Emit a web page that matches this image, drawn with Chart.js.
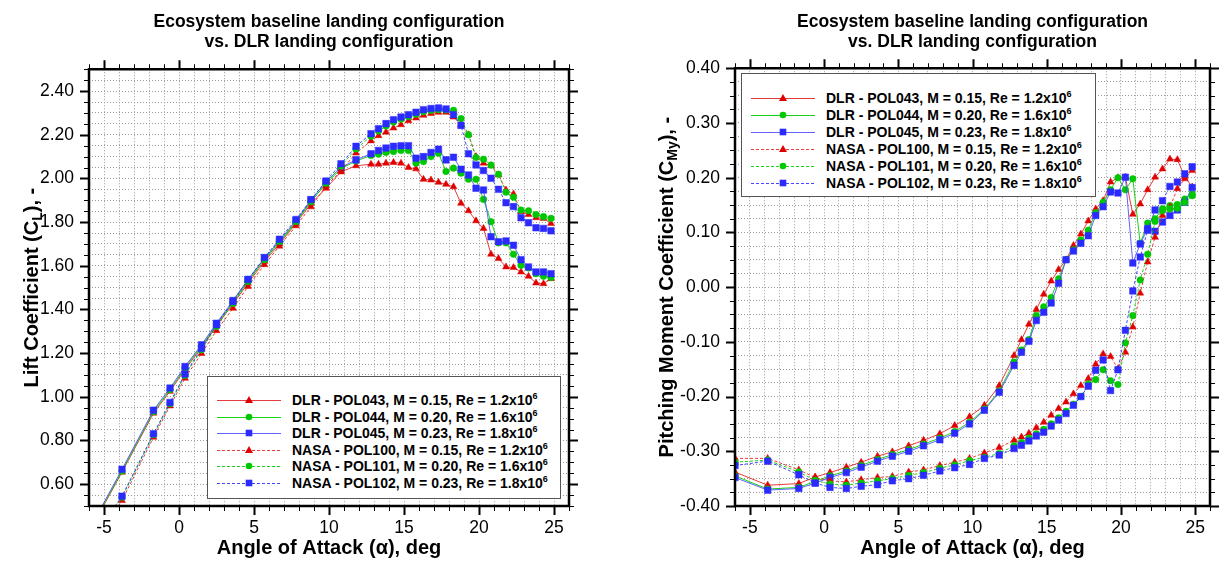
<!DOCTYPE html>
<html>
<head>
<meta charset="utf-8">
<script src="https://cdn.jsdelivr.net/npm/chart.js@4.4.1/dist/chart.umd.min.js"></script>
<style>
body { margin: 0; background: #fff; width: 1222px; height: 565px; position: relative; overflow: hidden; font-family: 'Liberation Sans', Arial, sans-serif; }
.pane { position: absolute; top: 0; width: 611px; height: 565px; }
.legend { position: absolute; border: 1px solid #555; background: #fff; box-sizing: border-box; }
.row { position: absolute; left: 0; right: 0; height: 18px; line-height: 18px; white-space: nowrap; font-weight: bold; font-size: 14px; color: #000; }
.row svg { position: absolute; left: 9px; top: 3px; }
.row span.t { position: absolute; left: 84px; }
.row sup { font-size: 9px; vertical-align: 6px; line-height: 0; }
</style>
</head>
<body>
<div class="pane" style="left:0"><canvas id="clChart" width="611" height="565"></canvas></div>
<div class="pane" style="left:611px"><canvas id="cmChart" width="611" height="565"></canvas></div>

<script>
// angle of attack, deg (same sweep for every run)
var ALPHA = [-6.0, -3.8, -1.7, -0.6, 0.4, 1.5, 2.5, 3.6, 4.6, 5.7, 6.7, 7.8, 8.8, 9.8, 10.8, 11.8,
  12.8, 13.3, 13.8, 14.3, 14.8, 15.3, 15.8, 16.3, 16.8, 17.3, 17.8, 18.3, 18.8, 19.3, 19.8,
  20.3, 20.8, 21.3, 21.8, 22.3, 22.8, 23.3, 23.8, 24.3, 24.8];

// lift coefficient
var CL_POL043 = [0.38, 0.655, 0.925, 1.025, 1.125, 1.225, 1.325, 1.425, 1.52, 1.62, 1.70, 1.795, 1.885, 1.955, 2.03, 2.058,
  2.065, 2.065, 2.07, 2.073, 2.07, 2.05, 2.044, 1.996, 1.993, 1.982, 1.973, 1.962, 1.886, 1.852, 1.806,
  1.771, 1.653, 1.633, 1.595, 1.592, 1.572, 1.552, 1.521, 1.518, 1.541];
var CL_POL044 = [0.385, 0.66, 0.932, 1.032, 1.132, 1.232, 1.332, 1.432, 1.53, 1.628, 1.708, 1.80, 1.895, 1.975, 2.045, 2.08,
  2.105, 2.111, 2.119, 2.123, 2.128, 2.128, 2.07, 2.077, 2.10, 2.115, 2.032, 2.047, 2.024, 1.996, 1.996,
  1.904, 1.802, 1.705, 1.705, 1.653, 1.602, 1.590, 1.564, 1.552, 1.546];
var CL_POL045 = [0.39, 0.668, 0.939, 1.04, 1.139, 1.238, 1.337, 1.441, 1.537, 1.635, 1.715, 1.806, 1.901, 1.985, 2.05, 2.085,
  2.113, 2.128, 2.139, 2.147, 2.15, 2.15, 2.093, 2.10, 2.119, 2.134, 2.085, 2.097, 2.042, 2.016, 1.955,
  1.947, 1.733, 1.710, 1.714, 1.694, 1.628, 1.595, 1.572, 1.572, 1.564];
var CL_POL100 = [0.315, 0.525, 0.815, 0.958, 1.085, 1.198, 1.303, 1.405, 1.505, 1.605, 1.69, 1.783, 1.87, 1.965, 2.035, 2.116,
  2.172, 2.196, 2.212, 2.231, 2.246, 2.264, 2.277, 2.289, 2.297, 2.303, 2.303, 2.281, 2.246, 2.200, 2.100,
  2.070, 2.058, 2.016, 1.947, 1.929, 1.848, 1.835, 1.820, 1.817, 1.794];
var CL_POL101 = [0.325, 0.54, 0.826, 0.968, 1.098, 1.215, 1.322, 1.428, 1.528, 1.628, 1.712, 1.803, 1.893, 1.978, 2.057, 2.135,
  2.193, 2.217, 2.24, 2.258, 2.271, 2.283, 2.294, 2.305, 2.311, 2.315, 2.314, 2.312, 2.274, 2.200, 2.096,
  2.088, 2.061, 2.019, 1.937, 1.914, 1.855, 1.852, 1.835, 1.825, 1.817];
var CL_POL102 = [0.33, 0.545, 0.831, 0.974, 1.104, 1.222, 1.33, 1.437, 1.537, 1.638, 1.722, 1.812, 1.903, 1.988, 2.067, 2.147,
  2.205, 2.228, 2.251, 2.269, 2.281, 2.292, 2.303, 2.315, 2.320, 2.323, 2.318, 2.292, 2.243, 2.113, 2.062,
  2.036, 2.001, 1.950, 1.889, 1.871, 1.820, 1.797, 1.774, 1.771, 1.760];

// pitching moment coefficient
var CM_POL043 = [-0.338, -0.362, -0.359, -0.347, -0.339, -0.329, -0.320, -0.309, -0.301, -0.290, -0.280, -0.268, -0.253, -0.237, -0.216, -0.180,
  -0.125, -0.096, -0.068, -0.041, -0.013, 0.011, 0.032, 0.050, 0.076, 0.097, 0.121, 0.143, 0.158, 0.192, 0.200,
  0.201, 0.133, 0.152, 0.178, 0.201, 0.216, 0.234, 0.233, 0.202, 0.183];
var CM_POL044 = [-0.345, -0.369, -0.366, -0.355, -0.345, -0.336, -0.326, -0.315, -0.306, -0.297, -0.287, -0.276, -0.264, -0.247, -0.223, -0.190,
  -0.137, -0.115, -0.096, -0.052, -0.036, -0.019, 0.015, 0.050, 0.068, 0.086, 0.104, 0.136, 0.155, 0.178, 0.200,
  0.178, 0.198, 0.080, 0.117, 0.125, 0.143, 0.149, 0.151, 0.161, 0.170];
var CM_POL045 = [-0.348, -0.371, -0.368, -0.358, -0.348, -0.339, -0.329, -0.318, -0.309, -0.300, -0.290, -0.279, -0.267, -0.250, -0.225, -0.192,
  -0.143, -0.119, -0.099, -0.061, -0.046, -0.029, 0.007, 0.050, 0.066, 0.080, 0.094, 0.131, 0.147, 0.174, 0.172,
  0.201, 0.044, 0.079, 0.107, 0.102, 0.119, 0.131, 0.141, 0.155, 0.182];
var CM_POL100 = [-0.313, -0.313, -0.334, -0.348, -0.354, -0.356, -0.352, -0.348, -0.346, -0.338, -0.334, -0.326, -0.320, -0.313, -0.303, -0.293,
  -0.280, -0.274, -0.267, -0.257, -0.247, -0.234, -0.222, -0.210, -0.195, -0.180, -0.167, -0.141, -0.122, -0.127, -0.149,
  -0.119, -0.073, -0.011, 0.046, 0.091, 0.131, 0.146, 0.180, 0.198, 0.213];
var CM_POL101 = [-0.320, -0.316, -0.338, -0.353, -0.360, -0.362, -0.358, -0.354, -0.350, -0.344, -0.339, -0.331, -0.325, -0.317, -0.311, -0.304,
  -0.290, -0.284, -0.276, -0.268, -0.260, -0.250, -0.239, -0.227, -0.214, -0.200, -0.177, -0.169, -0.151, -0.171, -0.178,
  -0.102, -0.052, 0.013, 0.060, 0.120, 0.140, 0.143, 0.144, 0.155, 0.167];
var CM_POL102 = [-0.326, -0.318, -0.343, -0.358, -0.366, -0.368, -0.364, -0.361, -0.354, -0.350, -0.344, -0.336, -0.330, -0.324, -0.313, -0.307,
  -0.295, -0.289, -0.281, -0.272, -0.265, -0.254, -0.243, -0.231, -0.216, -0.200, -0.181, -0.152, -0.133, -0.189, -0.151,
  -0.079, -0.007, 0.055, 0.104, 0.141, 0.158, 0.184, 0.192, 0.207, 0.220];

var X_LABELS = [-5, 0, 5, 10, 15, 20, 25];
var CL_LABELS = [0.6, 0.8, 1.0, 1.2, 1.4, 1.6, 1.8, 2.0, 2.2, 2.4];
var CM_LABELS = [-0.4, -0.3, -0.2, -0.1, 0, 0.1, 0.2, 0.3, 0.4];

var NAMES = ['DLR - POL043, M = 0.15, Re = 1.2x10', 'DLR - POL044, M = 0.20, Re = 1.6x10', 'DLR - POL045, M = 0.23, Re = 1.8x10',
  'NASA - POL100, M = 0.15, Re = 1.2x10', 'NASA - POL101, M = 0.20, Re = 1.6x10', 'NASA - POL102, M = 0.23, Re = 1.8x10'];
var EXPONENT = '6';

var FONT = "'Liberation Sans', Arial, Helvetica, sans-serif";
var RED = '#e00000', GREEN = '#00c800', BLUE = '#2b2bff';
var STYLE = [
  { color: RED, line: 'rgba(225,40,40,0.9)', shape: 'triangle', r: 4 },
  { color: GREEN, line: 'rgba(0,205,0,0.9)', shape: 'circle', r: 3.3 },
  { color: BLUE, line: 'rgba(70,70,255,0.85)', shape: 'rect', r: 4.6 },
  { color: RED, line: 'rgba(235,40,40,0.9)', shape: 'triangle', r: 4 },
  { color: GREEN, line: 'rgba(0,205,0,0.9)', shape: 'circle', r: 3.3 },
  { color: BLUE, line: 'rgba(50,50,255,0.9)', shape: 'rect', r: 4.6 }
];

function near(v, list) {
  for (var i = 0; i < list.length; i++) if (Math.abs(v - list[i]) < 1e-6) return true;
  return false;
}

function makeSets(lists) {
  return lists.map(function (vals, i) {
    var st = STYLE[i];
    return {
      label: NAMES[i] + EXPONENT,
      data: ALPHA.map(function (a, k) { return { x: a, y: vals[k] }; }),
      borderColor: st.line,
      backgroundColor: st.color,
      pointBorderColor: st.color,
      pointBackgroundColor: st.color,
      pointStyle: st.shape,
      pointRadius: st.r,
      pointHoverRadius: st.r,
      pointBorderWidth: 0.5,
      borderWidth: 1,
      borderDash: i > 2 ? [3, 2] : [],
      tension: 0,
      fill: false,
      order: 6 - i
    };
  });
}

// box, outward tick marks on all four sides, rotated y title with subscript
var framePlugin = {
  id: 'frame',
  afterDraw: function (chart, args, o) {
    var ctx = chart.ctx, a = chart.chartArea, x = chart.scales.x, y = chart.scales.y;
    ctx.save();
    ctx.strokeStyle = '#000';
    function marks(scale, step, major, horiz) {
      var k0 = Math.ceil(scale.min / step - 1e-6), k1 = Math.floor(scale.max / step + 1e-6);
      for (var k = k0; k <= k1; k++) {
        var v = k * step;
        var big = Math.abs(v / major - Math.round(v / major)) < 1e-6;
        var len = big ? 9 : 5;
        var p = Math.round(scale.getPixelForValue(v)) + 0.5;
        ctx.lineWidth = big ? 2 : 1;
        ctx.beginPath();
        if (horiz) {
          ctx.moveTo(p, a.bottom); ctx.lineTo(p, a.bottom + len);
          ctx.moveTo(p, a.top); ctx.lineTo(p, a.top - len);
        } else {
          ctx.moveTo(a.left, p); ctx.lineTo(a.left - len, p);
          ctx.moveTo(a.right, p); ctx.lineTo(a.right + len, p);
        }
        ctx.stroke();
      }
    }
    marks(x, o.xStep, o.xMajor, true);
    marks(y, o.yStep, o.yMajor, false);
    ctx.lineWidth = 2.5;
    ctx.strokeRect(a.left, a.top, a.right - a.left, a.bottom - a.top);

    // y axis title
    var big = 'bold 20px ' + FONT, small = 'bold 14px ' + FONT;
    ctx.font = big;
    var w1 = ctx.measureText(o.pre).width, w3 = ctx.measureText(o.post).width;
    ctx.font = small;
    var w2 = ctx.measureText(o.sub).width;
    var total = w1 + w2 + w3;
    ctx.translate(o.titleX, (a.top + a.bottom) / 2);
    ctx.rotate(-Math.PI / 2);
    ctx.fillStyle = '#000';
    ctx.textBaseline = 'alphabetic';
    ctx.textAlign = 'left';
    var s = -total / 2;
    ctx.font = big; ctx.fillText(o.pre, s, 7);
    ctx.font = small; ctx.fillText(o.sub, s + w1, 11);
    ctx.font = big; ctx.fillText(o.post, s + w1 + w2, 7);
    ctx.restore();
  }
};

function build(id, lists, yMin, yMax, yStep, yLabels, cfg) {
  return new Chart(document.getElementById(id), {
    type: 'line',
    data: { datasets: makeSets(lists) },
    plugins: [framePlugin],
    options: {
      responsive: false,
      animation: false,
      devicePixelRatio: 1,
      layout: { padding: { left: 0, right: cfg.padRight, top: 0, bottom: 0 } },
      plugins: {
        legend: { display: false },
        tooltip: { enabled: false },
        title: {
          display: true,
          fullSize: false,
          text: ['Ecosystem baseline landing configuration', 'vs. DLR landing configuration'],
          color: '#000',
          font: { family: FONT, size: 17.5, weight: 'bold', lineHeight: 1.15 },
          padding: { top: cfg.titleTop, bottom: cfg.titleBottom }
        },
        frame: { xStep: 1, xMajor: 5, yStep: cfg.yMinor, yMajor: cfg.yMajor,
          pre: cfg.yTitle[0], sub: cfg.yTitle[1], post: cfg.yTitle[2], titleX: cfg.yTitleX }
      },
      scales: {
        x: {
          type: 'linear', min: -6, max: 26,
          afterFit: function (s) { s.height = 59; },
          border: { display: false, dash: [1, 2] },
          grid: { color: '#9a9a9a', lineWidth: 1, drawTicks: false },
          ticks: {
            stepSize: 1, autoSkip: false, maxRotation: 0, maxTicksLimit: 200, padding: 12,
            color: '#000', font: { family: FONT, size: 17.5 },
            callback: function (v) { return near(v, X_LABELS) ? String(Math.round(v)) : ''; }
          },
          title: {
            display: true, text: 'Angle of Attack (\u03b1), deg', color: '#000',
            font: { family: FONT, size: 20, weight: 'bold', lineHeight: 1.2 },
            padding: { top: 0, bottom: 5 }
          }
        },
        y: {
          type: 'linear', min: yMin, max: yMax,
          afterFit: function (s) { s.width = cfg.yWidth; },
          border: { display: false, dash: [1, 2] },
          grid: { color: '#9a9a9a', lineWidth: 1, drawTicks: false },
          ticks: {
            stepSize: yStep, autoSkip: false, maxTicksLimit: 200, padding: 15,
            color: '#000', font: { family: FONT, size: 17.5 },
            callback: function (v) {
              return near(v, yLabels) ? (Math.round(v * 100) / 100).toFixed(2) : '';
            }
          }
        }
      }
    }
  });
}

build('clChart', [CL_POL043, CL_POL044, CL_POL045, CL_POL100, CL_POL101, CL_POL102], 0.5, 2.5, 0.05, CL_LABELS, {
  padRight: 42, yWidth: 89, titleTop: 12, titleBottom: 17, yMinor: 0.05, yMajor: 0.2,
  yTitle: ['Lift Coefficient (C', 'L', '), -'], yTitleX: 31
});
build('cmChart', [CM_POL043, CM_POL044, CM_POL045, CM_POL100, CM_POL101, CM_POL102], -0.4, 0.4, 0.025, CM_LABELS, {
  padRight: 7, yWidth: 124, titleTop: 12, titleBottom: 16, yMinor: 0.025, yMajor: 0.1,
  yTitle: ['Pitching Moment Coefficient (C', 'My', '), -'], yTitleX: 55
});

// legends as html so the exponent can be a real superscript
function legend(left, top, width, height, firstRow, rowStep) {
  var box = document.createElement('div');
  box.className = 'legend';
  box.style.left = left + 'px'; box.style.top = top + 'px';
  box.style.width = width + 'px'; box.style.height = height + 'px';
  NAMES.forEach(function (name, i) {
    var st = STYLE[i];
    var row = document.createElement('div');
    row.className = 'row';
    row.style.top = (firstRow + i * rowStep - 9) + 'px';
    var dash = i > 2 ? ' stroke-dasharray="3 2"' : '';
    var mark;
    if (st.shape === 'triangle') mark = '<polygon points="32,2 36,9 28,9" fill="' + st.color + '"/>';
    else if (st.shape === 'circle') mark = '<circle cx="32" cy="6" r="3.3" fill="' + st.color + '"/>';
    else mark = '<rect x="28.7" y="2.7" width="6.6" height="6.6" fill="' + st.color + '"/>';
    row.innerHTML = '<svg width="64" height="12"><line x1="0" y1="6.5" x2="64" y2="6.5" stroke="' + st.line +
      '" stroke-width="1"' + dash + '/>' + mark + '</svg><span class="t">' + name + '<sup>' + EXPONENT + '</sup></span>';
    box.appendChild(row);
  });
  document.body.appendChild(box);
}
legend(207, 376, 354, 123, 23.3, 16.5);
legend(741, 73, 355, 124, 23.7, 17);
</script>
</body>
</html>
